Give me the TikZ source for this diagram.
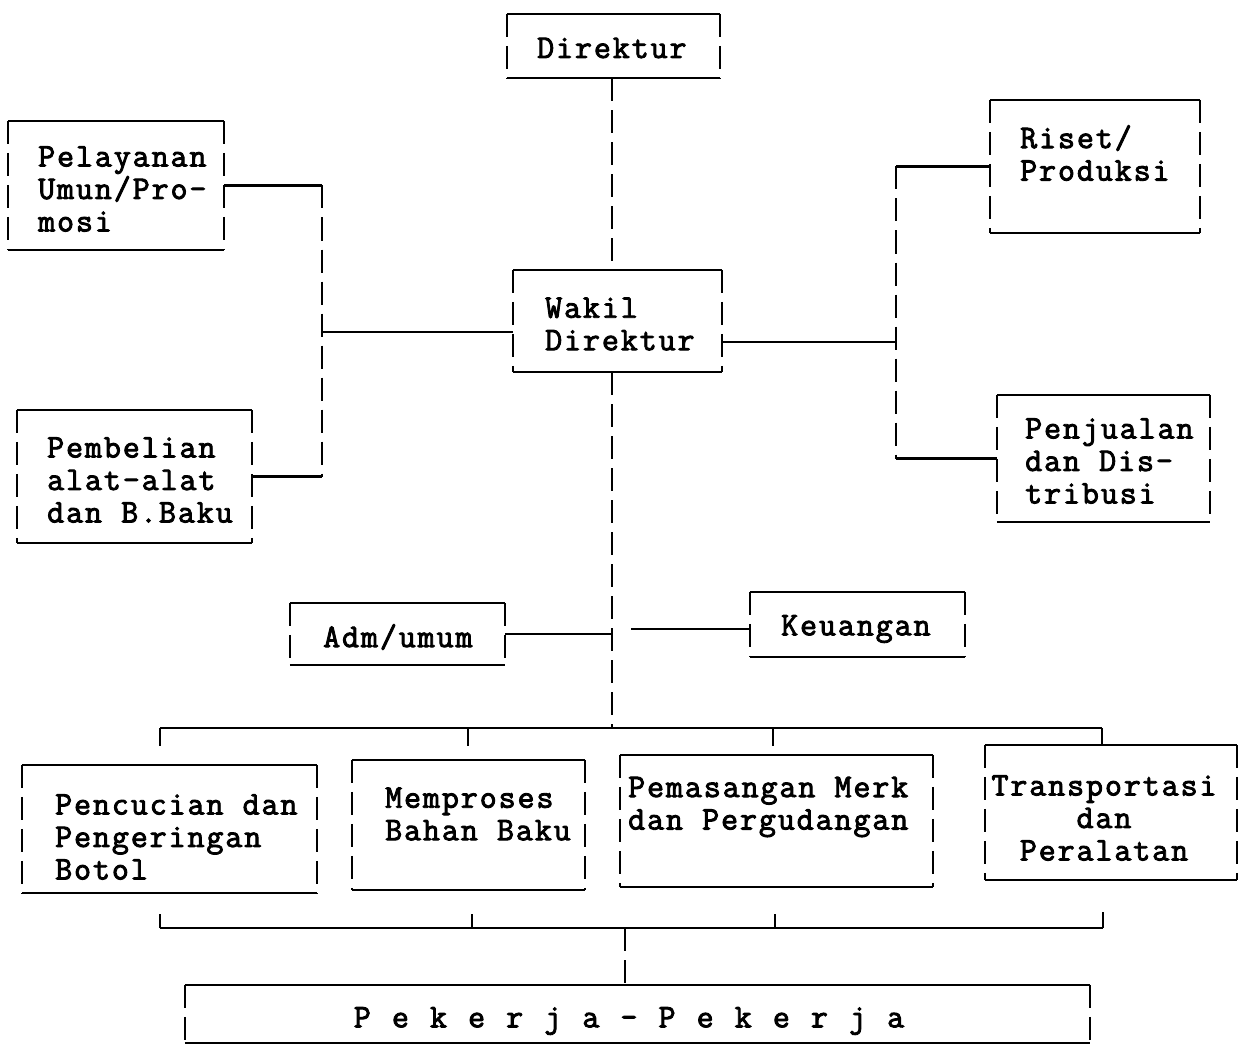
\documentclass[tikz,border=0pt]{standalone}
\usepackage{fontspec}
\newfontfamily\tw{Latin Modern Mono}[FakeBold=2.7,LetterSpace=5.8]
\newcommand\twfont{\tw\fontsize{33}{32.5}\selectfont}
\newcommand\gap{\hspace*{19.2pt}}
\newcommand\pgap{\hspace*{21.1pt}}
\begin{document}
\begin{tikzpicture}[x=1pt,y=-1pt,
  hline/.style={draw=black,line width=2.3pt,solid},
  vline/.style={draw=black,line width=2.3pt,dash pattern=on 23pt off 9pt},
  boxst/.style={draw=none,inner sep=0pt,rectangle,
    append after command={
      (\tikzlastnode.north west) edge[hline] (\tikzlastnode.north east)
      (\tikzlastnode.south west) edge[hline] (\tikzlastnode.south east)
      (\tikzlastnode.north west) edge[vline] (\tikzlastnode.south west)
      (\tikzlastnode.north east) edge[vline] (\tikzlastnode.south east)}},
  txt/.style={inner sep=0pt,align=left,anchor=west,font=\twfont},
  txtc/.style={txt,align=center,anchor=center}
]
\useasboundingbox[fill=white] (0,0) rectangle (1250,1051);

% boxes
\node[boxst,minimum width=213,minimum height=64]  (dir) at (613.5,46) {};
\node[boxst,minimum width=216,minimum height=129] (pel) at (116,185.5) {};
\node[boxst,minimum width=235,minimum height=133] (pem) at (134.5,476.5) {};
\node[boxst,minimum width=209,minimum height=102] (wak) at (617.5,321) {};
\node[boxst,minimum width=210,minimum height=133] (ris) at (1095,166.5) {};
\node[boxst,minimum width=213,minimum height=127] (pen) at (1103.5,458.5) {};
\node[boxst,minimum width=215,minimum height=62]  (adm) at (397.5,634) {};
\node[boxst,minimum width=215,minimum height=65]  (keu) at (857.5,624.5) {};
\node[boxst,minimum width=295,minimum height=128] (ba) at (169.5,829) {};
\node[boxst,minimum width=233,minimum height=130] (bb) at (468.5,825) {};
\node[boxst,minimum width=313,minimum height=132] (bc) at (776.5,821) {};
\node[boxst,minimum width=252,minimum height=135] (bd) at (1111,812.5) {};
\node[boxst,minimum width=905,minimum height=58]  (pek) at (637.5,1014) {};

% texts
\node[txt] (tdir) at (537,48) {Direktur};
\node[txt] (tpel) at (38,189) {Pelayanan\\Umun/Pro-\\mosi};
\node[txt] (tpem) at (47,480) {Pembelian\\alat-alat\\dan\gap B.Baku};
\node[txt] (twak) at (545,324) {Wakil\\Direktur};
\node[txt] (tris) at (1020,153) {Riset/\\Produksi};
\node[txt] (tpen) at (1025,461) {Penjualan\\dan\gap Dis-\\tribusi};
\node[txt] (tadm) at (323,637) {Adm/umum};
\node[txt] (tkeu) at (781,629) {Keuangan};
\node[txt] (tba) at (55,837) {Pencucian\gap dan\\Pengeringan\\Botol};
\node[txt] (tbb) at (385,814) {Memproses\\Bahan\gap Baku};
\node[txt] (tbc) at (628,807) {Pemasangan\gap Merk\\dan\gap Pergudangan};
\node[txtc] (tbd) at (1104,818) {Transportasi\\dan\\Peralatan};
\node[txtc] (tpek) at (629,1021) {P\pgap e\pgap k\pgap e\pgap r\pgap j\pgap a\pgap -\pgap P\pgap e\pgap k\pgap e\pgap r\pgap j\pgap a};

% helper coordinates
\coordinate (lbus) at (322,0);
\coordinate (rbus) at (896,0);
\coordinate (cx) at (612,0);
\coordinate (kstart) at (631,629);
\coordinate (tbL) at (160,728);
\coordinate (tbR) at (1102,728);
\coordinate (bbL) at (160,928);
\coordinate (bbR) at (1103,928);
\coordinate (bbC) at (625,928);

% Direktur -> Wakil
\draw[vline] (dir.south -| cx) -- (wak.north -| cx);

% left branch
\draw[hline] (pel.east) -- (pel.east -| lbus);
\draw[vline] (pel.east -| lbus) -- (pem.east -| lbus);
\draw[hline] (pem.east) -- (pem.east -| lbus);
\draw[hline] ([yshift=-11pt]wak.west) -- ([yshift=-11pt]wak.west -| lbus);

% right branch
\draw[hline] (ris.west) -- (ris.west -| rbus);
\draw[vline] (ris.west -| rbus) -- (pen.west -| rbus);
\draw[hline] (pen.west) -- (pen.west -| rbus);
\draw[hline] ([yshift=-21pt]wak.east) -- ([yshift=-21pt]wak.east -| rbus);

% Wakil -> bus
\draw[vline] (wak.south -| cx) -- (tbL -| cx);
\draw[hline] (adm.east) -- (adm.east -| cx);
\draw[hline] (kstart) -- (keu.west |- kstart);

% top bus
\draw[hline] (tbL) -- (tbR);
\coordinate (t1) at (160,746);
\coordinate (t2) at (468,746);
\coordinate (t3) at (773,746);
\coordinate (t4) at (1102,746);
\draw[hline] (tbL) -- (t1);
\draw[hline] (t2 |- tbL) -- (t2);
\draw[hline] (t3 |- tbL) -- (t3);
\draw[hline] (tbR) -- (t4);

% bottom bus
\draw[hline] (bbL) -- (bbR);
\coordinate (u1) at (160,914);
\coordinate (u2) at (472,914);
\coordinate (u3) at (775,914);
\coordinate (u4) at (1103,912);
\draw[hline] (bbL) -- (u1);
\draw[hline] (u2 |- bbL) -- (u2);
\draw[hline] (u3 |- bbL) -- (u3);
\draw[hline] (bbR) -- (u4);
\draw[vline] (bbC) -- (bbC |- pek.north);
\end{tikzpicture}
\end{document}
